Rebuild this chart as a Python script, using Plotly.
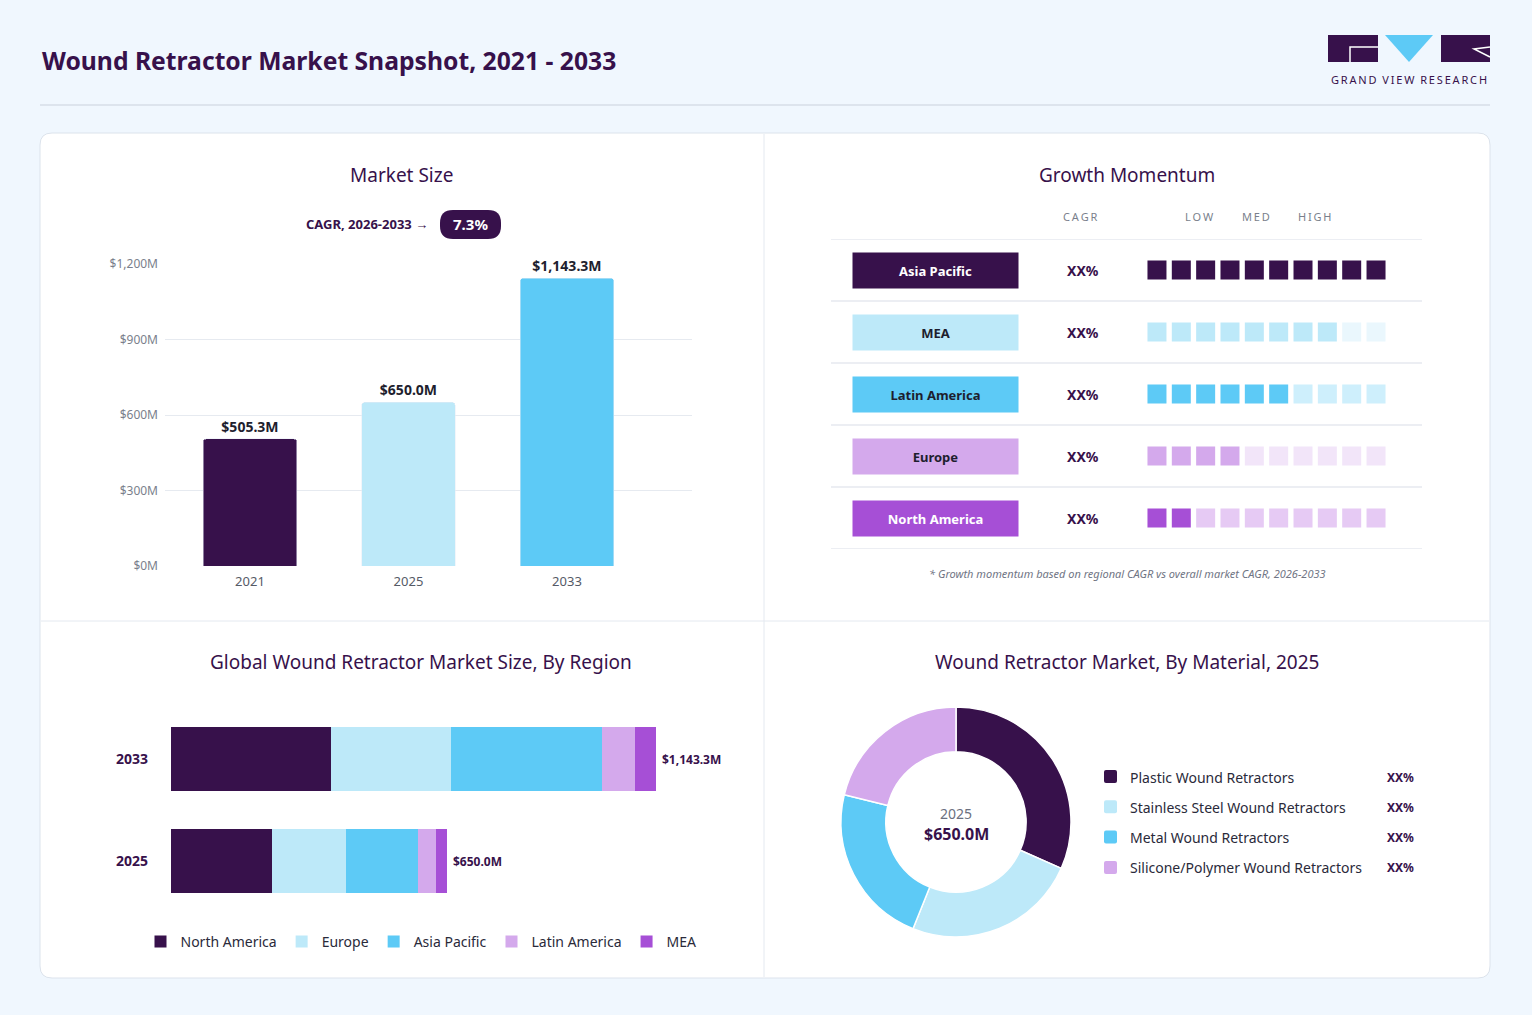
import plotly.graph_objects as go

# ---- data ----
years = ["2021", "2025", "2033"]
market_size = [505.3, 650.0, 1143.3]
bar_colors = ["#37114B", "#BDE9F9", "#5DCAF6"]
cagr_label = "7.3%"
size_ticks = [0, 300, 600, 900, 1200]

momentum_regions = ["Asia Pacific", "MEA", "Latin America", "Europe", "North America"]
momentum_level = [10, 8, 6, 4, 2]
momentum_cagr = ["XX%", "XX%", "XX%", "XX%", "XX%"]
momentum_colors = ["#37114B", "#BDE9F9", "#5DCAF6", "#D4A9EC", "#A64FD6"]
momentum_light = ["#37114B", "#EAF7FD", "#CEEFFC", "#F2E5F9", "#E6CAF4"]
momentum_text = ["white", "#1E1E2E", "#1E1E2E", "#1E1E2E", "white"]

stack_years = ["2033", "2025"]
stack_regions = ["North America", "Europe", "Asia Pacific", "Latin America", "MEA"]
stack_values = {
    "North America": [377.3, 238.0],
    "Europe": [283.0, 174.0],
    "Asia Pacific": [356.0, 170.0],
    "Latin America": [77.8, 42.0],
    "MEA": [49.2, 26.0],
}
stack_totals = [1143.3, 650.0]
stack_colors = ["#37114B", "#BDE9F9", "#5DCAF6", "#D4A9EC", "#A64FD6"]

materials = ["Plastic Wound Retractors", "Stainless Steel Wound Retractors",
             "Metal Wound Retractors", "Silicone/Polymer Wound Retractors"]
material_share = [31.6, 24.5, 22.7, 21.2]
material_colors = ["#37114B", "#BDE9F9", "#5DCAF6", "#D4A9EC"]
material_pct = ["XX%", "XX%", "XX%", "XX%"]

W, H = 1532, 1015
DARK = "#37114B"
FONT = "Noto Sans"


def X(p):
    return p / W


def Y(p):
    return 1 - p / H


def rounded(x0, y0, x1, y1, r):
    # rounded rectangle path in paper coords, inputs in pixels
    pts = (f"M{X(x0 + r)},{Y(y0)} L{X(x1 - r)},{Y(y0)} Q{X(x1)},{Y(y0)} {X(x1)},{Y(y0 + r)} "
           f"L{X(x1)},{Y(y1 - r)} Q{X(x1)},{Y(y1)} {X(x1 - r)},{Y(y1)} "
           f"L{X(x0 + r)},{Y(y1)} Q{X(x0)},{Y(y1)} {X(x0)},{Y(y1 - r)} "
           f"L{X(x0)},{Y(y0 + r)} Q{X(x0)},{Y(y0)} {X(x0 + r)},{Y(y0)} Z")
    return pts


def spaced(s):
    return "\u2009".join(s)


fig = go.Figure()

# market size bars
fig.add_trace(go.Bar(
    x=years, y=market_size, marker=dict(color=bar_colors, cornerradius=3),
    width=0.59, texttemplate="<b>$%{y:,.1f}M</b>", textposition="outside",
    textfont=dict(size=14, color="#1E1E2E"), cliponaxis=False,
    showlegend=False, xaxis="x", yaxis="y"))

# growth momentum squares
for i, reg in enumerate(momentum_regions):
    cols = [momentum_colors[i] if k < momentum_level[i] else momentum_light[i] for k in range(10)]
    fig.add_trace(go.Scatter(
        x=list(range(10)), y=[i] * 10, mode="markers",
        marker=dict(symbol="square", size=19, color=cols, line=dict(width=0)),
        showlegend=False, hoverinfo="skip", xaxis="x2", yaxis="y2"))

# stacked region bars
for reg, col in zip(stack_regions, stack_colors):
    fig.add_trace(go.Bar(
        x=stack_values[reg], y=stack_years, orientation="h", name=reg,
        marker=dict(color=col, line=dict(width=0)), width=0.62,
        xaxis="x3", yaxis="y3"))

# material donut
fig.add_trace(go.Pie(
    labels=materials, values=material_share, hole=0.61, sort=False,
    direction="clockwise", rotation=0, textinfo="none",
    marker=dict(colors=material_colors, line=dict(color="white", width=1.5)),
    domain=dict(x=[X(841), X(1071)], y=[Y(937), Y(707)]), showlegend=False))

shapes = [
    dict(type="line", xref="paper", yref="paper", x0=X(40), x1=X(1490), y0=Y(105), y1=Y(105),
         line=dict(color="#DDE4ED", width=2), layer="below"),
    dict(type="path", xref="paper", yref="paper", path=rounded(40, 133, 1490, 978, 12),
         fillcolor="white", line=dict(color="#DCE3EC", width=1), layer="below"),
    dict(type="line", xref="paper", yref="paper", x0=X(764), x1=X(764), y0=Y(134), y1=Y(977),
         line=dict(color="#E4E9F0", width=1), layer="below"),
    dict(type="line", xref="paper", yref="paper", x0=X(41), x1=X(1489), y0=Y(621), y1=Y(621),
         line=dict(color="#E4E9F0", width=1), layer="below"),
    # CAGR pill
    dict(type="path", xref="paper", yref="paper", path=rounded(440, 210, 501, 239, 13),
         fillcolor=DARK, line=dict(width=0)),
    # logo
    dict(type="rect", xref="paper", yref="paper", x0=X(1328), x1=X(1378), y0=Y(35), y1=Y(62),
         fillcolor=DARK, line=dict(width=0)),
    dict(type="path", xref="paper", yref="paper",
         path=f"M{X(1350)},{Y(62)} L{X(1350)},{Y(47)} L{X(1378)},{Y(47)}",
         line=dict(color="white", width=1.5)),
    dict(type="path", xref="paper", yref="paper",
         path=f"M{X(1385)},{Y(35)} L{X(1433)},{Y(35)} L{X(1409)},{Y(62)} Z",
         fillcolor="#5DCAF6", line=dict(width=0)),
    dict(type="rect", xref="paper", yref="paper", x0=X(1441), x1=X(1490), y0=Y(35), y1=Y(62),
         fillcolor=DARK, line=dict(width=0)),
    dict(type="path", xref="paper", yref="paper",
         path=f"M{X(1490)},{Y(47)} L{X(1474)},{Y(49)} L{X(1490)},{Y(57)}",
         line=dict(color="white", width=1.5)),
]

# momentum row separators
for i in range(len(momentum_regions) + 1):
    shapes.append(dict(type="line", xref="paper", yref="y2", x0=X(831), x1=X(1422),
                       y0=i - 0.5, y1=i - 0.5, line=dict(color="#E6E9EF", width=1.5),
                       layer="below"))

# material legend swatches
for i, col in enumerate(material_colors):
    yc = 777 + i * 30.3
    shapes.append(dict(type="path", xref="paper", yref="paper",
                       path=rounded(1104, yc - 7, 1117, yc + 6, 2),
                       fillcolor=col, line=dict(width=0)))

ann = [
    dict(text="<b>Wound Retractor Market Snapshot, 2021 - 2033</b>", x=X(40), y=Y(60),
         xanchor="left", font=dict(size=24.7, color=DARK)),
    dict(text=spaced("GRAND") + "  " + spaced("VIEW") + "  " + spaced("RESEARCH"),
         x=X(1409), y=Y(79), font=dict(size=11, color=DARK)),
    dict(text="Market Size", x=X(402), y=Y(175), font=dict(size=19, color=DARK)),
    dict(text="Growth Momentum", x=X(1127), y=Y(175), font=dict(size=19, color=DARK)),
    dict(text="Global Wound Retractor Market Size, By Region", x=X(421), y=Y(662),
         font=dict(size=19, color=DARK)),
    dict(text="Wound Retractor Market, By Material, 2025", x=X(1127), y=Y(662),
         font=dict(size=19, color=DARK)),
    dict(text="<b>CAGR, 2026-2033 →</b>", x=X(367), y=Y(224), font=dict(size=13, color=DARK)),
    dict(text=f"<b>{cagr_label}</b>", x=X(470.5), y=Y(224), font=dict(size=15, color="white")),
    dict(text=spaced("CAGR"), x=X(1080), y=Y(217), font=dict(size=11, color="#7A7F8C")),
    dict(text=spaced("LOW"), x=X(1199), y=Y(217), font=dict(size=11, color="#7A7F8C")),
    dict(text=spaced("MED"), x=X(1256), y=Y(217), font=dict(size=11, color="#7A7F8C")),
    dict(text=spaced("HIGH"), x=X(1315), y=Y(217), font=dict(size=11, color="#7A7F8C")),
    dict(text="<i>* Growth momentum based on regional CAGR vs overall market CAGR, 2026-2033</i>",
         x=X(1127), y=Y(573), font=dict(size=11, color="#707584")),
    dict(text="2025", x=X(956), y=Y(813), font=dict(size=14, color="#6B7080")),
    dict(text="<b>$650.0M</b>", x=X(956), y=Y(834), font=dict(size=16, color=DARK)),
]
for a in ann:
    a.setdefault("xanchor", "center")
    a.update(xref="paper", yref="paper", showarrow=False, yanchor="middle")

for i, reg in enumerate(momentum_regions):
    ann.append(dict(text=f"<b>{reg}</b>", xref="paper", yref="y2", x=X(935.5), y=i,
                    xanchor="center", yanchor="middle",
                    showarrow=False, width=165, height=35, bgcolor=momentum_colors[i],
                    borderpad=0, font=dict(size=13, color=momentum_text[i])))
    ann.append(dict(text=f"<b>{momentum_cagr[i]}</b>", xref="paper", yref="y2", x=X(1083), y=i,
                    xanchor="center", yanchor="middle",
                    showarrow=False, font=dict(size=14, color=DARK)))

# totals at the end of each stacked bar (y given as category index)
for i, tot in enumerate(stack_totals):
    ann.append(dict(text=f"<b>${tot:,.1f}M</b>", xref="x3", yref="y3", x=tot, y=i,
                    xanchor="left", yanchor="middle", xshift=4, showarrow=False,
                    font=dict(size=12, color=DARK)))

for i, (m, p) in enumerate(zip(materials, material_pct)):
    yc = 777 + i * 30.3
    ann.append(dict(text=m, xref="paper", yref="paper", x=X(1128), y=Y(yc), xanchor="left",
                    yanchor="middle", showarrow=False, font=dict(size=14, color="#2A2A3A")))
    ann.append(dict(text=f"<b>{p}</b>", xref="paper", yref="paper", x=X(1400), y=Y(yc),
                    xanchor="center", yanchor="middle",
                    showarrow=False, font=dict(size=12, color=DARK)))

fig.update_layout(
    width=W, height=H, margin=dict(l=0, r=0, t=0, b=0, autoexpand=False),
    paper_bgcolor="#F0F7FE", plot_bgcolor="rgba(0,0,0,0)",
    font=dict(family=FONT, color="#333"),
    barmode="stack", bargap=0.38,
    shapes=shapes, annotations=ann,
    xaxis=dict(domain=[X(165), X(692)], type="category", range=[-0.536, 2.789],
               showgrid=False, showline=False, ticks="", automargin=False,
               ticklabelstandoff=6, tickfont=dict(size=13, color="#555A66")),
    yaxis=dict(domain=[Y(566), Y(264)], range=[0, 1200], tickvals=size_ticks,
               ticktext=[f"${v:,}M" for v in size_ticks], gridcolor="#E6EAF0",
               zeroline=False, showline=False, automargin=False, ticklabelstandoff=6,
               tickfont=dict(size=12, color="#7A7F8C")),
    xaxis2=dict(domain=[X(1144.8), X(1388.2)], range=[-0.5, 9.5], visible=False),
    yaxis2=dict(domain=[Y(549), Y(239)], range=[4.5, -0.5], visible=False),
    xaxis3=dict(domain=[X(171), X(722.5)], range=[0, 1300], visible=False),
    yaxis3=dict(domain=[Y(912), Y(708)], type="category", categoryorder="array",
                categoryarray=stack_years, range=[1.5, -0.5],
                showgrid=False, showline=False, ticks="", ticklabelstandoff=22,
                automargin=False,
                tickfont=dict(size=14, color=DARK, weight="bold"), anchor="x3"),
    legend=dict(orientation="h", x=X(421), xanchor="center", y=Y(942), yanchor="middle",
                font=dict(size=14, color="#2A2A3A"), bgcolor="rgba(0,0,0,0)",
                traceorder="normal"),
)

fig.write_html("out.html", post_script="document.body.style.margin='0';",
               config={"displayModeBar": False})
